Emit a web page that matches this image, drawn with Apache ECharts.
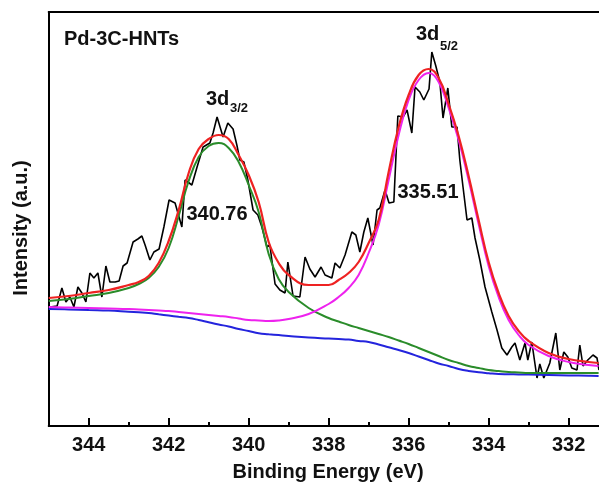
<!DOCTYPE html>
<html>
<head>
<meta charset="utf-8">
<script src="https://cdn.jsdelivr.net/npm/echarts@6/dist/echarts.min.js"></script>
<style>
  html, body { margin: 0; padding: 0; background: #fff; }
  #xps { width: 599px; height: 488px; }
</style>
</head>
<body>
<div id="xps"></div>
<script>
// raw Pd 3d spectrum (binding energy in eV, intensity in a.u.)
var rawEnergy = [344.97, 344.79, 344.67, 344.57, 344.47, 344.37, 344.27, 344.17, 344.07, 343.97,
  343.87, 343.77, 343.67, 343.57, 343.47, 343.34, 343.24, 343.14, 343.04, 342.89,
  342.77, 342.67, 342.59, 342.47, 342.37, 342.24, 342.12, 341.99, 341.84, 341.67,
  341.59, 341.42, 341.29, 341.14, 340.97, 340.89, 340.79, 340.64, 340.52, 340.39,
  340.29, 340.22, 340.12, 340.02, 339.89, 339.77, 339.67, 339.54, 339.47, 339.34,
  339.22, 339.09, 339.02, 338.89, 338.72, 338.59, 338.47, 338.34, 338.19, 338.09,
  337.92, 337.84, 337.72, 337.59, 337.42, 337.32, 337.22, 337.12, 337.02, 336.89,
  336.79, 336.72, 336.59, 336.49, 336.37, 336.27, 336.14, 336.04, 335.92, 335.84,
  335.72, 335.62, 335.49, 335.42, 335.32, 335.22, 335.14, 335.02, 334.92, 334.79,
  334.72, 334.64, 334.54, 334.42, 334.34, 334.22, 334.09, 333.92, 333.79, 333.67,
  333.54, 333.42, 333.34, 333.22, 333.09, 333.02, 332.92, 332.79, 332.72, 332.62,
  332.47, 332.32, 332.22, 332.12, 332.02, 331.92, 331.79, 331.72, 331.64, 331.52,
  331.39, 331.29, 331.24];
var rawCounts = [1190, 1200, 1380, 1240, 1290, 1190, 1390, 1330, 1240, 1530,
  1480, 1530, 1290, 1600, 1440, 1440, 1450, 1600, 1630, 1840,
  1870, 1900, 1810, 1660, 1740, 1770, 1990, 2260, 2230, 1990,
  2460, 2410, 2590, 2790, 2830, 2930, 3090, 2890, 3030, 2970,
  2800, 2660, 2640, 2460, 2160, 2110, 1990, 1790, 1810, 1420,
  1360, 1330, 1640, 1300, 1290, 1690, 1570, 1490, 1590, 1510,
  1480, 1630, 1580, 1710, 1940, 1910, 1740, 1940, 2080, 1810,
  2160, 2180, 2360, 2230, 2240, 3100, 3090, 3160, 2930, 3390,
  3340, 3260, 3370, 3740, 3600, 3440, 3080, 3380, 2990, 2990,
  2660, 2390, 2060, 2080, 1880, 1660, 1390, 1140, 960, 780,
  710, 790, 830, 660, 830, 660, 840, 480, 620, 480,
  630, 930, 560, 740, 690, 580, 560, 810, 600, 660,
  710, 680, 560];

// fitted curves
var fitEnergy = [345, 344.5, 344, 343.5, 343, 342.75, 342.5, 342.25, 342, 341.75,
  341.5, 341.25, 341, 340.75, 340.5, 340.25, 340, 339.75, 339.5, 339.25,
  339, 338.5, 338, 337.75, 337.5, 337.25, 337, 336.75, 336.5, 336.25,
  336, 335.75, 335.5, 335.25, 335, 334.75, 334.5, 334.25, 334, 333.75,
  333.5, 333.25, 333, 332.5, 332, 331.5, 331.25];
var envelope = [1280, 1300, 1330, 1360, 1410, 1440, 1500, 1630, 1850, 2160,
  2530, 2770, 2870, 2910, 2870, 2710, 2510, 2240, 1840, 1630,
  1510, 1410, 1410, 1460, 1530, 1640, 1830, 2060, 2540, 2990,
  3310, 3510, 3570, 3480, 3220, 2900, 2500, 2060, 1640, 1330,
  1100, 950, 850, 730, 670, 640, 630];
var peak32 = [1250, 1270, 1300, 1330, 1380, 1420, 1480, 1590, 1780, 2100,
  2450, 2690, 2800, 2830, 2780, 2640, 2410, 2140, 1720, 1470,
  1340, 1180, 1080, 1045, 1010, 980, 950, 920, 890, 855,
  820, 780, 740, 700, 660, 630, 600, 580, 560, 550,
  540, 535, 530, 530, 530, 530, 530];
var peak52 = [1190, 1185, 1180, 1175, 1170, 1165, 1160, 1155, 1150, 1140,
  1130, 1120, 1110, 1100, 1090, 1075, 1060, 1055, 1050, 1055,
  1070, 1120, 1220, 1290, 1380, 1510, 1730, 2010, 2460, 2910,
  3260, 3460, 3530, 3440, 3180, 2860, 2460, 2020, 1600, 1290,
  1060, 910, 810, 700, 640, 610, 600];
var background = [1170, 1166, 1160, 1155, 1143, 1137, 1130, 1117, 1105, 1092,
  1080, 1060, 1037, 1015, 995, 970, 950, 928, 918, 909,
  900, 885, 875, 870, 864, 850, 840, 815, 787, 760,
  730, 695, 660, 625, 600, 570, 550, 537, 528, 520,
  518, 516, 514, 510, 506, 502, 500];

var majorTicks = [344, 342, 340, 338, 336, 334, 332];
var minorTicks = [343, 341, 339, 337, 335, 333];

function pairs(xs, ys) {
  return xs.map(function (x, i) { return [x, ys[i]]; });
}

var dom = document.getElementById('xps');
var myChart = echarts.init(dom);
var font = 'Arial, "Liberation Sans", sans-serif';
var xMin = 331.24, xMax = 345;

function fitLine(name, data, color, width) {
  return {
    name: name,
    type: 'line',
    data: pairs(fitEnergy, data),
    smooth: 0.45,
    showSymbol: false,
    lineStyle: { color: color, width: width },
    z: 3
  };
}

function label(x, y, text, size, align) {
  return {
    type: 'text',
    style: {
      x: x, y: y, text: text, font: 'bold ' + size + 'px ' + font, fill: '#111',
      align: align, verticalAlign: 'middle', textAlign: align, textVerticalAlign: 'middle'
    }
  };
}

var option = {
  backgroundColor: '#fff',
  animation: false,
  grid: { left: 48.7, top: 12, right: 0, height: 414, containLabel: false, outerBoundsMode: 'none' },
  xAxis: [{
    type: 'value',
    inverse: true,
    min: xMin,
    max: xMax,
    position: 'bottom',
    axisLine: { lineStyle: { color: '#000', width: 2 } },
    axisTick: { inside: true, length: 8, customValues: majorTicks, lineStyle: { color: '#000', width: 2 } },
    splitLine: { show: false },
    axisLabel: {
      margin: 9,
      customValues: majorTicks,
      color: '#111',
      fontSize: 20,
      fontWeight: 'bold',
      fontFamily: font
    }
  }, {
    type: 'value',
    position: 'top',
    inverse: true,
    min: xMin,
    max: xMax,
    axisLine: { show: true, lineStyle: { color: '#000', width: 2 } },
    axisTick: { show: false },
    axisLabel: { show: false },
    splitLine: { show: false }
  }, {
    type: 'value',
    position: 'bottom',
    inverse: true,
    min: xMin,
    max: xMax,
    axisLine: { show: false },
    axisTick: { inside: true, length: 4, customValues: minorTicks, lineStyle: { color: '#000', width: 2 } },
    axisLabel: { show: false },
    splitLine: { show: false }
  }],
  yAxis: {
    type: 'value',
    min: 0,
    max: 4140,
    axisLine: { show: true, lineStyle: { color: '#000', width: 2 } },
    axisTick: { show: false },
    axisLabel: { show: false },
    splitLine: { show: false }
  },
  series: [
    {
      name: 'raw',
      type: 'line',
      data: pairs(rawEnergy, rawCounts),
      showSymbol: false,
      lineStyle: { color: '#000', width: 1.6 },
      z: 2
    },
    fitLine('background', background, '#2424dd', 2),
    fitLine('3d3/2', peak32, '#2a8c2a', 2),
    fitLine('3d5/2', peak52, '#ee22ee', 2),
    fitLine('envelope', envelope, '#ee2222', 2.2)
  ],
  graphic: [
    label(64, 39, 'Pd-3C-HNTs', 20, 'left'),
    label(206, 99, '3d', 20, 'left'),
    label(230, 108, '3/2', 13, 'left'),
    label(416, 34, '3d', 20, 'left'),
    label(440, 46, '5/2', 13, 'left'),
    label(217, 214, '340.76', 20, 'center'),
    label(428, 192, '335.51', 20, 'center'),
    label(328, 472, 'Binding Energy (eV)', 20, 'center'),
    { type: 'text', x: 21, y: 228, rotation: Math.PI / 2,
      style: { x: 0, y: 0, text: 'Intensity (a.u.)', font: 'bold 20px ' + font, fill: '#111',
        align: 'center', verticalAlign: 'middle', textAlign: 'center', textVerticalAlign: 'middle' } }
  ]
};

if (option && typeof option === 'object') {
  myChart.setOption(option, true);
}
</script>
</body>
</html>
